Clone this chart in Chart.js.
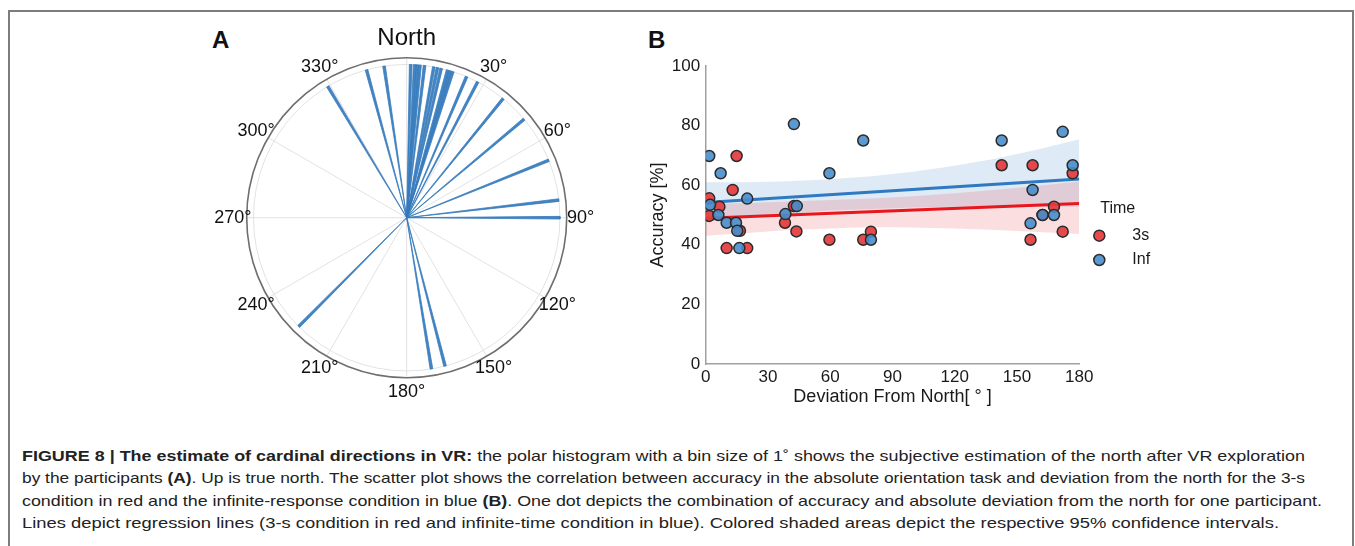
<!DOCTYPE html>
<html><head><meta charset="utf-8">
<script src="https://cdn.jsdelivr.net/npm/chart.js@4.4.1/dist/chart.umd.min.js"></script>
<style>
html,body{margin:0;padding:0;background:#fff;}
body{width:1355px;height:546px;position:relative;overflow:hidden;font-family:"Liberation Sans",Arial,sans-serif;color:#1a1a1a;}
#frame{position:absolute;left:8px;top:10px;width:1346px;height:600px;box-sizing:border-box;border:2px solid #7d7d7d;border-bottom:none;}
.plbl{position:absolute;font-weight:bold;font-size:24px;line-height:24px;color:#111;}
#cv1{position:absolute;left:200px;top:20px;}
#cv2{position:absolute;left:640px;top:50px;}
#caption{position:absolute;left:22px;top:444.5px;font-size:15px;line-height:22.5px;color:#222;white-space:nowrap;}
#caption div{width:max-content;transform-origin:0 0;}
</style></head>
<body>
<div id="frame"></div>
<div class="plbl" style="left:212px;top:28px;">A</div>
<div class="plbl" style="left:648px;top:28px;">B</div>
<canvas id="cv1" width="420" height="400"></canvas>
<canvas id="cv2" width="560" height="370"></canvas>
<div id="caption">
<div id="cl1"><b>FIGURE 8 | The estimate of cardinal directions in VR:</b> the polar histogram with a bin size of 1˚ shows the subjective estimation of the north after VR exploration</div>
<div id="cl2">by the participants <b>(A)</b>. Up is true north. The scatter plot shows the correlation between accuracy in the absolute orientation task and deviation from the north for the 3-s</div>
<div id="cl3">condition in red and the infinite-response condition in blue <b>(B)</b>. One dot depicts the combination of accuracy and absolute deviation from the north for one participant.</div>
<div id="cl4">Lines depict regression lines (3-s condition in red and infinite-time condition in blue). Colored shaded areas depict the respective 95% confidence intervals.</div>
</div>
<script>
// ---------- Panel A: polar histogram (1° bins) ----------
const polarBins   = [329, 344.8, 351.5, 1.5, 3, 4, 5, 6.7, 10.2, 11.6, 13, 15.5, 16.5, 17.5, 23, 27.6, 39, 50, 68, 83.4, 90, 165.5, 170.7, 224.8];
const polarCounts = [1, 1, 1, 1, 1, 1, 1, 1, 1, 1, 1, 1, 1, 1, 1, 1, 1, 1, 1, 1, 1, 1, 1, 1];
const polarTicks  = [0, 30, 60, 90, 120, 150, 180, 210, 240, 270, 300, 330];
const polarTickLabels = ['North', '30°', '60°', '90°', '120°', '150°', '180°', '210°', '240°', '270°', '300°', '330°'];
const polarRMax = 1.044;

// ---------- Panel B: accuracy vs deviation ----------
const x3s = [1.7, 1.7, 6.6, 13.0, 14.9, 16.5, 10.1, 20.0, 38.2, 42.5, 43.7, 59.6, 75.9, 79.6, 142.6, 157.5, 156.5, 162.3, 167.8, 172.0, 176.8];
const y3s = [55.6, 49.7, 52.8, 58.4, 69.8, 44.7, 38.9, 38.9, 47.4, 53.0, 44.5, 41.7, 41.7, 44.4, 66.7, 66.7, 41.7, 50.0, 52.8, 44.4, 64.0];
const xInf = [1.7, 7.2, 2.1, 6.1, 10.1, 14.6, 15.2, 16.2, 20.0, 38.4, 42.5, 43.9, 59.6, 75.9, 79.6, 142.6, 157.5, 156.5, 162.3, 167.8, 172.0, 176.8];
const yInf = [69.8, 64.0, 53.4, 50.0, 47.4, 47.4, 44.7, 38.9, 55.5, 50.3, 80.5, 53.0, 64.0, 75.0, 41.7, 75.0, 58.4, 47.2, 50.0, 50.0, 77.9, 66.7];
const fitX = [0, 180];
const fit3s = [48.9, 53.9];
const fitInf = [54.2, 62.1];
const bandX = [0, 20, 40, 60, 80, 100, 120, 140, 160, 180];
const bandInfHi = [61.0, 61.0, 61.3, 62.0, 63.0, 64.5, 66.5, 69.0, 72.0, 75.4];
const bandInfLo = [47.8, 49.0, 50.5, 51.5, 52.0, 52.5, 52.8, 52.8, 52.8, 52.8];
const band3sHi = [53.7, 54.0, 54.5, 55.0, 55.5, 56.3, 57.3, 58.5, 59.8, 61.2];
const band3sLo = [43.0, 44.0, 45.0, 45.5, 46.0, 45.8, 45.5, 45.0, 44.3, 43.6];
const xTicks = [0, 30, 60, 90, 120, 150, 180];
const yTicks = [0, 20, 40, 60, 80, 100];
const legendTitle = 'Time';
const legendNames = ['3s', 'Inf'];

const FONT = '"Liberation Sans", Arial, sans-serif';
const RED = 'rgba(229,60,62,0.93)';
const BLUE = 'rgba(72,142,205,0.9)';

// ----- Panel A chart -----
const deg = Math.PI / 180;
const wedgeSets = polarBins.map((a, i) => {
  const r = polarCounts[i];
  const a0 = (a - 0.5) * deg, a1 = (a + 0.5) * deg;
  return {
    data: [{x: 0, y: 0}, {x: r * Math.sin(a0), y: r * Math.cos(a0)}, {x: r * Math.sin(a1), y: r * Math.cos(a1)}, {x: 0, y: 0}],
    showLine: true, fill: 'shape', backgroundColor: 'rgba(52,122,188,0.92)', borderColor: 'rgba(52,122,188,0.92)',
    borderWidth: 0.8, pointRadius: 0, tension: 0
  };
});

const polarDeco = {
  id: 'polarDeco',
  beforeDatasetsDraw(chart) {
    const {ctx, scales: {x, y}} = chart;
    const cx = x.getPixelForValue(0), cy = y.getPixelForValue(0);
    const R1 = x.getPixelForValue(1) - cx;
    ctx.save();
    ctx.strokeStyle = '#e2e2e2'; ctx.lineWidth = 1;
    polarTicks.forEach(t => {
      ctx.beginPath(); ctx.moveTo(cx, cy);
      ctx.lineTo(x.getPixelForValue(polarRMax * Math.sin(t * deg)), y.getPixelForValue(polarRMax * Math.cos(t * deg)));
      ctx.stroke();
    });
    ctx.beginPath(); ctx.arc(cx, cy, R1, 0, 2 * Math.PI); ctx.stroke();
    ctx.restore();
  },
  afterDraw(chart) {
    const {ctx, scales: {x, y}} = chart;
    const cx = x.getPixelForValue(0), cy = y.getPixelForValue(0);
    const RM = x.getPixelForValue(polarRMax) - cx;
    ctx.save();
    ctx.strokeStyle = '#6e6e6e'; ctx.lineWidth = 1.6;
    ctx.beginPath(); ctx.arc(cx, cy, RM, 0, 2 * Math.PI); ctx.stroke();
    ctx.fillStyle = '#111'; ctx.textAlign = 'center'; ctx.textBaseline = 'middle';
    polarTicks.forEach((t, i) => {
      const big = i === 0;
      const rl = big ? 1.17 : 1.135;
      ctx.font = (big ? '24px ' : '18px ') + FONT;
      ctx.fillText(polarTickLabels[i], x.getPixelForValue(rl * Math.sin(t * deg)), y.getPixelForValue(rl * Math.cos(t * deg)));
    });
    ctx.restore();
  }
};

new Chart(document.getElementById('cv1'), {
  type: 'scatter',
  data: {datasets: wedgeSets},
  options: {
    responsive: false, animation: false, events: [],
    layout: {padding: {left: 46.7, top: 37.7, right: 53.3, bottom: 42.3}},
    plugins: {legend: {display: false}, tooltip: {enabled: false}},
    scales: {
      x: {type: 'linear', min: -polarRMax, max: polarRMax, display: false},
      y: {type: 'linear', min: -polarRMax, max: polarRMax, display: false}
    }
  },
  plugins: [polarDeco]
});

// ----- Panel B chart -----
const pts = (xs, ys) => xs.map((v, i) => ({x: v, y: ys[i]}));
const timeLegend = {
  id: 'timeLegend',
  afterDraw(chart) {
    const ctx = chart.ctx, L = chart.chartArea.right;
    ctx.save();
    ctx.fillStyle = '#1a1a1a'; ctx.textBaseline = 'middle'; ctx.textAlign = 'left';
    ctx.font = '16px ' + FONT;
    ctx.fillText(legendTitle, L + 21, 159);
    const cols = [RED, BLUE];
    [185.7, 210].forEach((yy, i) => {
      ctx.beginPath(); ctx.arc(L + 20, yy, 5.5, 0, 2 * Math.PI);
      ctx.fillStyle = cols[i]; ctx.fill();
      ctx.lineWidth = 1.5; ctx.strokeStyle = '#2b2b2b'; ctx.stroke();
      ctx.fillStyle = '#1a1a1a';
      ctx.fillText(legendNames[i], L + 53, yy);
    });
    ctx.restore();
  }
};

new Chart(document.getElementById('cv2'), {
  type: 'scatter',
  data: {
    datasets: [
      {label: legendNames[1], data: pts(xInf, yInf), backgroundColor: BLUE, borderColor: '#2b2b2b', borderWidth: 1.5, pointRadius: 5.5, order: 0},
      {label: legendNames[0], data: pts(x3s, y3s), backgroundColor: RED, borderColor: '#2b2b2b', borderWidth: 1.5, pointRadius: 5.5, order: 1},
      {data: pts(fitX, fitInf), showLine: true, borderColor: '#2f79c2', borderWidth: 3, pointRadius: 0, order: 2},
      {data: pts(fitX, fit3s), showLine: true, borderColor: '#e8171d', borderWidth: 3, pointRadius: 0, order: 3},
      {data: pts(bandX, bandInfHi), showLine: true, borderWidth: 0, borderColor: 'rgba(0,0,0,0)', pointRadius: 0, fill: '+1', backgroundColor: 'rgba(70,140,200,0.18)', order: 5},
      {data: pts(bandX, bandInfLo), showLine: true, borderWidth: 0, borderColor: 'rgba(0,0,0,0)', pointRadius: 0, order: 6},
      {data: pts(bandX, band3sHi), showLine: true, borderWidth: 0, borderColor: 'rgba(0,0,0,0)', pointRadius: 0, fill: '+1', backgroundColor: 'rgba(232,60,70,0.17)', order: 4},
      {data: pts(bandX, band3sLo), showLine: true, borderWidth: 0, borderColor: 'rgba(0,0,0,0)', pointRadius: 0, order: 7}
    ]
  },
  options: {
    responsive: false, animation: false, events: [],
    layout: {padding: {left: 0, top: 16, right: 120.7, bottom: 0}},
    plugins: {legend: {display: false}, tooltip: {enabled: false}},
    scales: {
      x: {
        type: 'linear', min: 0, max: 180,
        afterBuildTicks: s => { s.ticks = xTicks.map(v => ({value: v})); },
        ticks: {padding: 3, maxRotation: 0, color: '#1a1a1a', font: {family: FONT, size: 17}},
        grid: {display: false, drawTicks: false},
        border: {display: true, color: '#a0a0a0', width: 1.5},
        title: {display: true, text: 'Deviation From North[ ° ]', color: '#1a1a1a', font: {family: FONT, size: 18}, padding: {top: 0, bottom: 12.5}},
        afterFit: s => { s.height = 56; }
      },
      y: {
        type: 'linear', min: 0, max: 100,
        afterBuildTicks: s => { s.ticks = yTicks.map(v => ({value: v})); },
        ticks: {padding: 5.5, color: '#1a1a1a', font: {family: FONT, size: 17}},
        grid: {display: false, drawTicks: false},
        border: {display: true, color: '#a0a0a0', width: 1.5},
        title: {display: true, text: 'Accuracy [%]', color: '#1a1a1a', font: {family: FONT, size: 18}, padding: {top: 7.5, bottom: 0}},
        afterFit: s => { s.width = 65.7; }
      }
    }
  },
  plugins: [timeLegend]
});

// fit each caption line to the width it spans in the reference (condensed face)
const capWidths = {cl1: 1283, cl2: 1283, cl3: 1300, cl4: 1257};
Object.keys(capWidths).forEach(id => {
  const el = document.getElementById(id);
  const w = el.getBoundingClientRect().width;
  el.style.transform = 'scaleX(' + (capWidths[id] / w) + ')';
});
</script>
</body></html>
